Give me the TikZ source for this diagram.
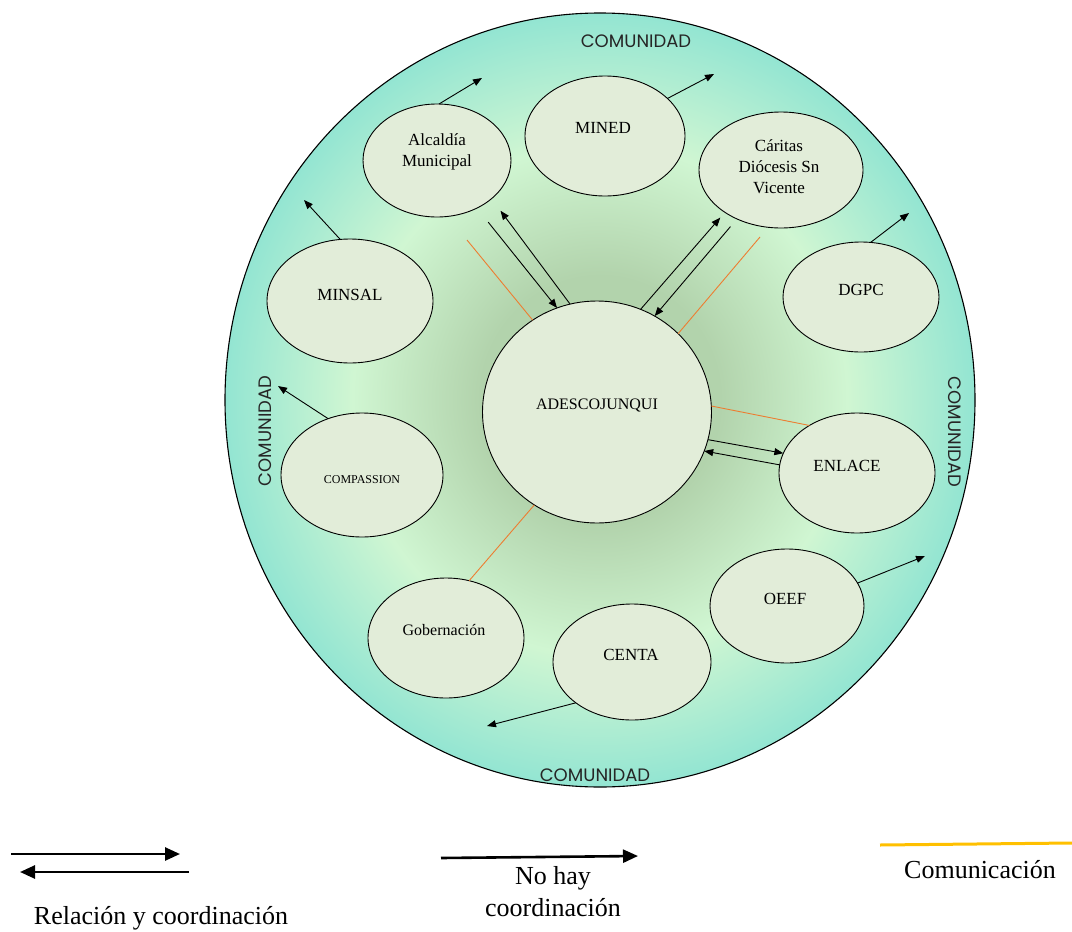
\documentclass[tikz,border=0pt]{standalone}
\usepackage{fontspec}
\setmainfont{Liberation Serif}
\newfontfamily\comfont{Poppins}
\usepackage{tikz}
\usepackage{xcolor}
\usetikzlibrary{shapes.geometric}
\usetikzlibrary{arrows.meta}
\definecolor{shadeColorA}{HTML}{B2D3AC}
\definecolor{shadeColorB}{HTML}{D0F6D2}
\definecolor{shadeColorC}{HTML}{93E5D2}
\definecolor{nodeBgColor}{HTML}{E2EDD9}
\definecolor{commColor}{HTML}{ED7D31}
\definecolor{legendCommColor}{HTML}{FFC000}
\pgfdeclareradialshading{comunidadShade}{\pgfpoint{0bp}{0bp}}{%
color(0bp)=(shadeColorA); color(8bp)=(shadeColorA); color(16.5bp)=(shadeColorB);
color(25bp)=(shadeColorC); color(50bp)=(shadeColorC)}
\def\textA{Alcaldía\\Municipal}
\def\textB{MINED}
\def\textC{Cáritas\\Diócesis Sn\\Vicente}
\def\textD{DGPC}
\def\textE{MINSAL}
\def\textF{ADESCOJUNQUI}
\def\textG{COMPASSION}
\def\textH{ENLACE}
\def\textI{OEEF}
\def\textJ{Gobernación}
\def\textK{CENTA}
\tikzset{
orgNode/.style={ellipse, draw=black, line width=0.9bp, fill=nodeBgColor, inner sep=0pt, outer sep=0pt},
orgText/.style={align=center, font=\fontsize{17bp}{21bp}\selectfont},
comText/.style={text=black!85, font=\comfont\fontsize{18bp}{20bp}\selectfont},
linkArrow/.style={line width=0.9bp, -{Triangle[length=9bp,width=7bp]}},
commLine/.style={color=commColor, line width=0.9bp},
legendArrow/.style={line width=2.6bp, -{Triangle[length=15bp,width=13bp]}},
legendText/.style={align=center, font=\fontsize{26bp}{32bp}\selectfont}
}
\begin{document}
\begin{tikzpicture}[x=1bp,y=-1bp]
\useasboundingbox (0,0) rectangle (1072,932);

% community layer
\begin{scope}
\shade[shading=comunidadShade] (600,400) ellipse [x radius=375bp, y radius=387bp];
\draw[line width=1.1bp] (600,400) ellipse [x radius=375bp, y radius=387bp];
\node[comText] (comTop) at (636,41) {COMUNIDAD};
\node[comText] (comBottom) at (595,775) {COMUNIDAD};
\node[comText, rotate=90] (comLeft) at (265,431) {COMUNIDAD};
\node[comText, rotate=-90] (comRight) at (955,432) {COMUNIDAD};
\end{scope}

% node layer
\begin{scope}
\node[orgNode, minimum width=148bp, minimum height=113bp] (alcaldia) at (437,160.5) {};
\node[orgText] (alcaldiaText) at ([yshift=9bp]alcaldia.center) {\textA};
\node[orgNode, minimum width=160bp, minimum height=120bp] (mined) at (605,136) {};
\node[orgText] (minedText) at ([xshift=-2bp, yshift=8bp]mined.center) {\textB};
\node[orgNode, minimum width=164bp, minimum height=116bp] (caritas) at (781,170) {};
\node[orgText] (caritasText) at ([xshift=-2bp, yshift=3bp]caritas.center) {\textC};
\node[orgNode, minimum width=156bp, minimum height=110bp] (dgpc) at (861,297) {};
\node[orgText] (dgpcText) at ([yshift=7bp]dgpc.center) {\textD};
\node[orgNode, minimum width=166bp, minimum height=124bp] (minsal) at (350,301) {};
\node[orgText] (minsalText) at ([yshift=6bp]minsal.center) {\textE};
\node[orgNode, minimum width=229bp, minimum height=222bp] (adesco) at (597,412) {};
\node[orgText, font=\fontsize{16bp}{20bp}\selectfont] (adescoText) at ([yshift=7bp]adesco.center) {\textF};
\node[orgNode, minimum width=162bp, minimum height=124bp] (compassion) at (362,475) {};
\node[orgText, font=\fontsize{12bp}{14bp}\selectfont] (compassionText) at ([yshift=-5bp]compassion.center) {\textG};
\node[orgNode, minimum width=156bp, minimum height=120bp] (enlace) at (857,473) {};
\node[orgText] (enlaceText) at ([xshift=-10bp, yshift=7bp]enlace.center) {\textH};
\node[orgNode, minimum width=154bp, minimum height=114bp] (oeef) at (787,606) {};
\node[orgText] (oeefText) at ([xshift=-2bp, yshift=7bp]oeef.center) {\textI};
\node[orgNode, minimum width=156bp, minimum height=120bp] (gobernacion) at (446,638) {};
\node[orgText, font=\fontsize{16bp}{20bp}\selectfont] (gobernacionText) at ([xshift=-2bp, yshift=8bp]gobernacion.center) {\textJ};
\node[orgNode, minimum width=158bp, minimum height=116bp] (centa) at (632,662) {};
\node[orgText] (centaText) at ([xshift=-1bp, yshift=7bp]centa.center) {\textK};
\end{scope}

% link layer
\begin{scope}
\draw[linkArrow, shorten <=18bp] (alcaldia.-50.5) -- (adesco.111);
\draw[linkArrow, shorten >=15bp] (adesco.104) -- (alcaldia.-35);
\draw[linkArrow, shorten >=7bp] (adesco.67) -- (caritas.217);
\draw[linkArrow, shorten <=10bp] (caritas.228) -- (adesco.59);
\draw[linkArrow] (adesco.-14.4) -- (enlace.165);
\draw[linkArrow] (enlace.174) -- (adesco.-20);
\coordinate (alcaldiaOut) at (482,78);
\coordinate (minedOut) at (714,74);
\coordinate (dgpcOut) at (909,213);
\coordinate (minsalOut) at (304,200);
\coordinate (compassionOut) at (278,386);
\coordinate (oeefOut) at (925,556);
\coordinate (centaOut) at (487,726);
\draw[linkArrow] (alcaldia.88) -- (alcaldiaOut);
\draw[linkArrow] (mined.31.5) -- (minedOut);
\draw[linkArrow] (dgpc.80) -- (dgpcOut);
\draw[linkArrow] (minsal.99) -- (minsalOut);
\draw[linkArrow] (compassion.121) -- (compassionOut);
\draw[linkArrow] (oeef.18) -- (oeefOut);
\draw[linkArrow] (centa.216) -- (centaOut);
\end{scope}

% communication layer
\begin{scope}
\coordinate (commA) at (467,240);
\coordinate (commB) at (760,237);
\draw[commLine] (adesco.125) -- (commA);
\draw[commLine] (adesco.44) -- (commB);
\draw[commLine] (adesco.3) -- (enlace.135);
\draw[commLine] (adesco.236) -- (gobernacion.68);
\end{scope}

% legend
\begin{scope}
\coordinate (relAStart) at (11,854);
\coordinate (relAEnd) at (180,854);
\coordinate (relBStart) at (189,872);
\coordinate (relBEnd) at (20,872);
\coordinate (noCoordStart) at (441,858);
\coordinate (noCoordEnd) at (638,856);
\coordinate (commStart) at (880,845);
\coordinate (commEnd) at (1072,843);
\draw[legendArrow] (relAStart) -- (relAEnd);
\draw[legendArrow] (relBStart) -- (relBEnd);
\draw[legendArrow] (noCoordStart) -- (noCoordEnd);
\draw[color=legendCommColor, line width=3bp] (commStart) -- (commEnd);
\node[legendText, anchor=base] (relText) at (161,924) {Relación y coordinación};
\node[legendText] (noCoordText) at (553,892) {No hay\\coordinación};
\node[legendText, anchor=base] (commText) at (980,878) {Comunicación};
\end{scope}
\end{tikzpicture}
\end{document}
